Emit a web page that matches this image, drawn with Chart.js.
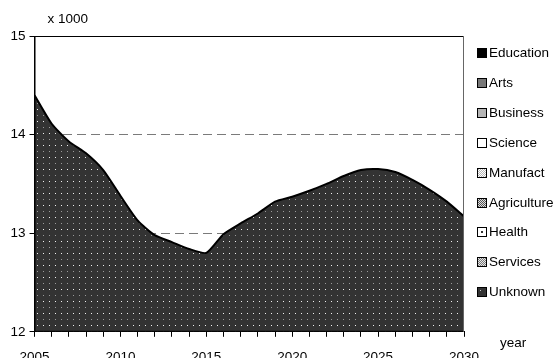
<!DOCTYPE html>
<html>
<head>
<meta charset="utf-8">
<script src="https://cdn.jsdelivr.net/npm/chart.js@4.4.0/dist/chart.umd.min.js"></script>
<style>
  html, body { margin: 0; padding: 0; background: #fff; overflow: hidden; }
  #wrap { width: 556px; height: 377px; }
</style>
</head>
<body>
<div id="wrap"><canvas id="chart"></canvas></div>
<script>
// data
const years = [2005, 2006, 2007, 2008, 2009, 2010, 2011, 2012, 2013, 2014, 2015, 2016, 2017,
               2018, 2019, 2020, 2021, 2022, 2023, 2024, 2025, 2026, 2027, 2028, 2029, 2030];
const unknownValues = [14.40, 14.11, 13.93, 13.81, 13.64, 13.38, 13.13, 12.98, 12.91, 12.84, 12.80, 12.99, 13.10,
                       13.20, 13.32, 13.37, 13.43, 13.50, 13.58, 13.64, 13.65, 13.62, 13.54, 13.44, 13.32, 13.17];
const seriesNames = ['Education', 'Arts', 'Business', 'Science', 'Manufact', 'Agriculture', 'Health', 'Services', 'Unknown'];
const yTickValues = [12, 13, 14, 15];
const xLabelYears = [2005, 2010, 2015, 2020, 2025, 2030];

const FONT = '"Liberation Sans", Arial, sans-serif';
const FONT_SIZE = 13.5;

function makePattern(size, draw) {
    const c = document.createElement('canvas');
    c.width = size;
    c.height = size;
    const g = c.getContext('2d');
    draw(g, size);
    return c.getContext('2d').createPattern(c, 'repeat');
}

function dots(g, s) {
    g.fillStyle = '#333';
    g.fillRect(0, 0, s, s);
    g.fillStyle = '#f2f2f2';
    g.fillRect(1, 1, 1, 1);
    g.fillRect(7, 1, 1, 1);
    g.fillStyle = '#9a9a9a';
    g.fillRect(1, 7, 1, 1);
    g.fillRect(7, 7, 1, 1);
}

function stripes(color, back, dir) {
    return (g, s) => {
        g.fillStyle = back;
        g.fillRect(0, 0, s, s);
        g.fillStyle = color;
        for (let i = 0; i < s; i++) {
            const x = dir > 0 ? (s - 1 - i) : i;
            g.fillRect(x, i, 1, 1);
            g.fillRect((x + 2) % s, i, 1, 1);
        }
    };
}

const areaPattern = makePattern(12, dots);

const legendFills = {
    Education: '#000',
    Arts: '#777',
    Business: '#b4b4b4',
    Science: '#fff',
    Manufact: makePattern(4, stripes('#b8b8b8', '#fff', 1)),
    Agriculture: makePattern(4, stripes('#555', '#ddd', -1)),
    Health: '#fff',
    Services: makePattern(4, stripes('#7a7a7a', '#e6e6e6', 1)),
    Unknown: '#333'
};

const frame = {
    id: 'frame',
    afterDraw(chart) {
        const {ctx, chartArea: a} = chart;
        ctx.save();
        ctx.lineWidth = 1;
        ctx.strokeStyle = '#000';
        ctx.beginPath();
        ctx.moveTo(a.left + 0.5, a.bottom);
        ctx.lineTo(a.left + 0.5, a.top + 0.5);
        ctx.lineTo(a.right, a.top + 0.5);
        ctx.moveTo(a.left, a.bottom - 0.5);
        ctx.lineTo(a.right, a.bottom - 0.5);
        ctx.stroke();
        ctx.strokeStyle = '#666';
        ctx.beginPath();
        ctx.moveTo(a.right - 0.5, a.top);
        ctx.lineTo(a.right - 0.5, a.bottom);
        ctx.stroke();

        ctx.fillStyle = '#000';
        ctx.font = FONT_SIZE + 'px ' + FONT;
        ctx.textBaseline = 'middle';
        ctx.textAlign = 'left';
        ctx.fillText('x 1000', a.left + 13, a.top - 17);
        ctx.fillText('year', a.right + 36, a.bottom + 11);

        // legend
        seriesNames.forEach((name, i) => {
            const y = Math.round(53 + i * 29.9);
            const bx = 477, by = y - 5;
            ctx.fillStyle = legendFills[name];
            ctx.fillRect(bx, by, 9, 9);
            if (name === 'Health') {
                ctx.fillStyle = '#333';
                ctx.fillRect(bx + 4, by + 4, 2, 2);
            }
            if (name === 'Unknown') {
                ctx.fillStyle = '#ccc';
                ctx.fillRect(bx + 3, by + 3, 1, 1);
            }
            ctx.strokeStyle = '#000';
            ctx.strokeRect(bx + 0.5, by + 0.5, 9, 9);
            ctx.fillStyle = '#000';
            ctx.fillText(name, 489, y + 0.5);
        });
        ctx.restore();
    }
};

new Chart(document.getElementById('chart'), {
    type: 'line',
    data: {
        datasets: [{
            label: 'Unknown',
            data: years.map((y, i) => ({x: y, y: unknownValues[i]})),
            borderColor: '#000',
            borderWidth: 2,
            backgroundColor: areaPattern,
            fill: 'start',
            tension: 0.2,
            pointRadius: 0
        }]
    },
    options: {
        responsive: true,
        maintainAspectRatio: false,
        animation: false,
        layout: {
            padding: {left: 6.5, right: 92, top: 36, bottom: 0}
        },
        plugins: {
            legend: {display: false},
            tooltip: {enabled: false}
        },
        scales: {
            x: {
                type: 'linear',
                min: years[0],
                max: years[years.length - 1],
                ticks: {
                    stepSize: 1,
                    autoSkip: false,
                    maxRotation: 0,
                    padding: 12,
                    color: '#000',
                    font: {family: FONT, size: FONT_SIZE},
                    callback: v => xLabelYears.includes(v) ? String(v) : ''
                },
                grid: {
                    drawOnChartArea: false,
                    drawTicks: true,
                    tickLength: 5,
                    tickColor: '#000'
                },
                border: {display: true, color: '#000', width: 1}
            },
            y: {
                min: yTickValues[0],
                max: yTickValues[yTickValues.length - 1],
                afterBuildTicks: scale => {
                    scale.ticks = yTickValues.map(v => ({value: v}));
                },
                ticks: {
                    padding: 4,
                    color: '#000',
                    font: {family: FONT, size: FONT_SIZE}
                },
                grid: {
                    color: ctx => (ctx.tick && (ctx.tick.value === 13 || ctx.tick.value === 14)) ? '#7a7a7a' : 'rgba(0,0,0,0)',
                    tickColor: '#000',
                    tickLength: 5,
                    lineWidth: 1
                },
                border: {display: true, color: '#000', width: 1, dash: [9, 5]}
            }
        }
    },
    plugins: [frame]
});
</script>
</body>
</html>
